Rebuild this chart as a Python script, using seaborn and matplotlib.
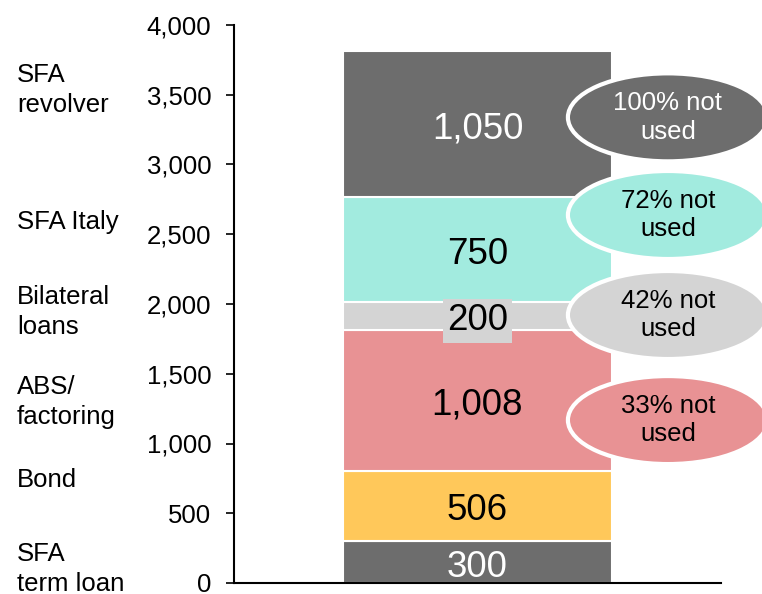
import matplotlib
matplotlib.use("Agg")
import matplotlib.pyplot as plt
import seaborn as sns
from matplotlib.patches import Ellipse
from matplotlib.ticker import FuncFormatter, MultipleLocator
import matplotlib.transforms as mtransforms

# ---- data ----
segments = ["SFA term loan", "Bond", "ABS/factoring", "Bilateral loans", "SFA Italy", "SFA revolver"]
values = [300, 506, 1008, 200, 750, 1050]
colors = ["#6d6d6d", "#ffc85a", "#e89294", "#d4d4d4", "#a2ebdf", "#6d6d6d"]
value_text_colors = ["white", "black", "black", "black", "black", "white"]
left_labels = ["SFA\nterm loan", "Bond", "ABS/\nfactoring", "Bilateral\nloans", "SFA Italy", "SFA\nrevolver"]
left_label_y = [100, 738, 1298, 1943, 2588, 3534]
unused_text = ["33% not\nused", "42% not\nused", "72% not\nused", "100% not\nused"]
unused_colors = ["#e89294", "#d4d4d4", "#a2ebdf", "#6d6d6d"]
unused_text_colors = ["black", "black", "black", "white"]
unused_y = [1168, 1921, 2638, 3338]

sns.set_style("white")
plt.rcParams["font.family"] = ["Liberation Sans", "DejaVu Sans"]

fig = plt.figure(figsize=(7.62, 5.94), dpi=100)
ax = fig.add_axes([234 / 762, 1 - 583 / 594, (721 - 234) / 762, (583 - 25) / 594])

down = mtransforms.offset_copy(ax.transData, fig=fig, x=0, y=-5, units="dots")

bottom = 0
for val, col, tcol in zip(values, colors, value_text_colors):
    sns.barplot(x=[0], y=[val], bottom=bottom, color=col, saturation=1,
                width=0.552, edgecolor="white", linewidth=1.5, ax=ax)
    mid = bottom + val / 2
    kw = {}
    if val == 200:
        kw["bbox"] = dict(facecolor=col, edgecolor="none", pad=3)
    ax.text(0, mid, f"{val:,}", ha="center", va="center", fontsize=26.5,
            color=tcol, zorder=5, transform=down, **kw)
    bottom += val

ax.set_xlim(-0.5, 0.5)
ax.set_ylim(0, 4000)
ax.yaxis.set_major_locator(MultipleLocator(500))
ax.yaxis.set_major_formatter(FuncFormatter(lambda v, p: f"{int(v):,}"))
ax.set_xticks([])
ax.set_xlabel("")
ax.set_ylabel("")
ax.tick_params(axis="y", direction="out", length=5.8, width=1.2, color="black",
               labelcolor="black", labelsize=18.5, pad=10.5, left=True)
for s in ["top", "right"]:
    ax.spines[s].set_visible(False)
for s in ["left", "bottom"]:
    ax.spines[s].set_color("black")
    ax.spines[s].set_linewidth(1.5)

# left labels
trans = mtransforms.blended_transform_factory(fig.transFigure, ax.transData)
for lab, yy in zip(left_labels, left_label_y):
    ax.text(17 / 762, yy, lab, transform=trans, ha="left", va="center",
            fontsize=18.5, color="black", linespacing=1.3, clip_on=False)

# ellipses
for txt, col, tcol, yy in zip(unused_text, unused_colors, unused_text_colors, unused_y):
    e = Ellipse((0.391, yy), width=200 / 487, height=88 / 0.1395, facecolor=col,
                edgecolor="white", linewidth=3, clip_on=False, zorder=6)
    ax.add_patch(e)
    ax.text(0.391, yy, txt, ha="center", va="center", fontsize=18.5, color=tcol,
            linespacing=1.25, zorder=7, clip_on=False)

fig.savefig("out.png", dpi=100)
